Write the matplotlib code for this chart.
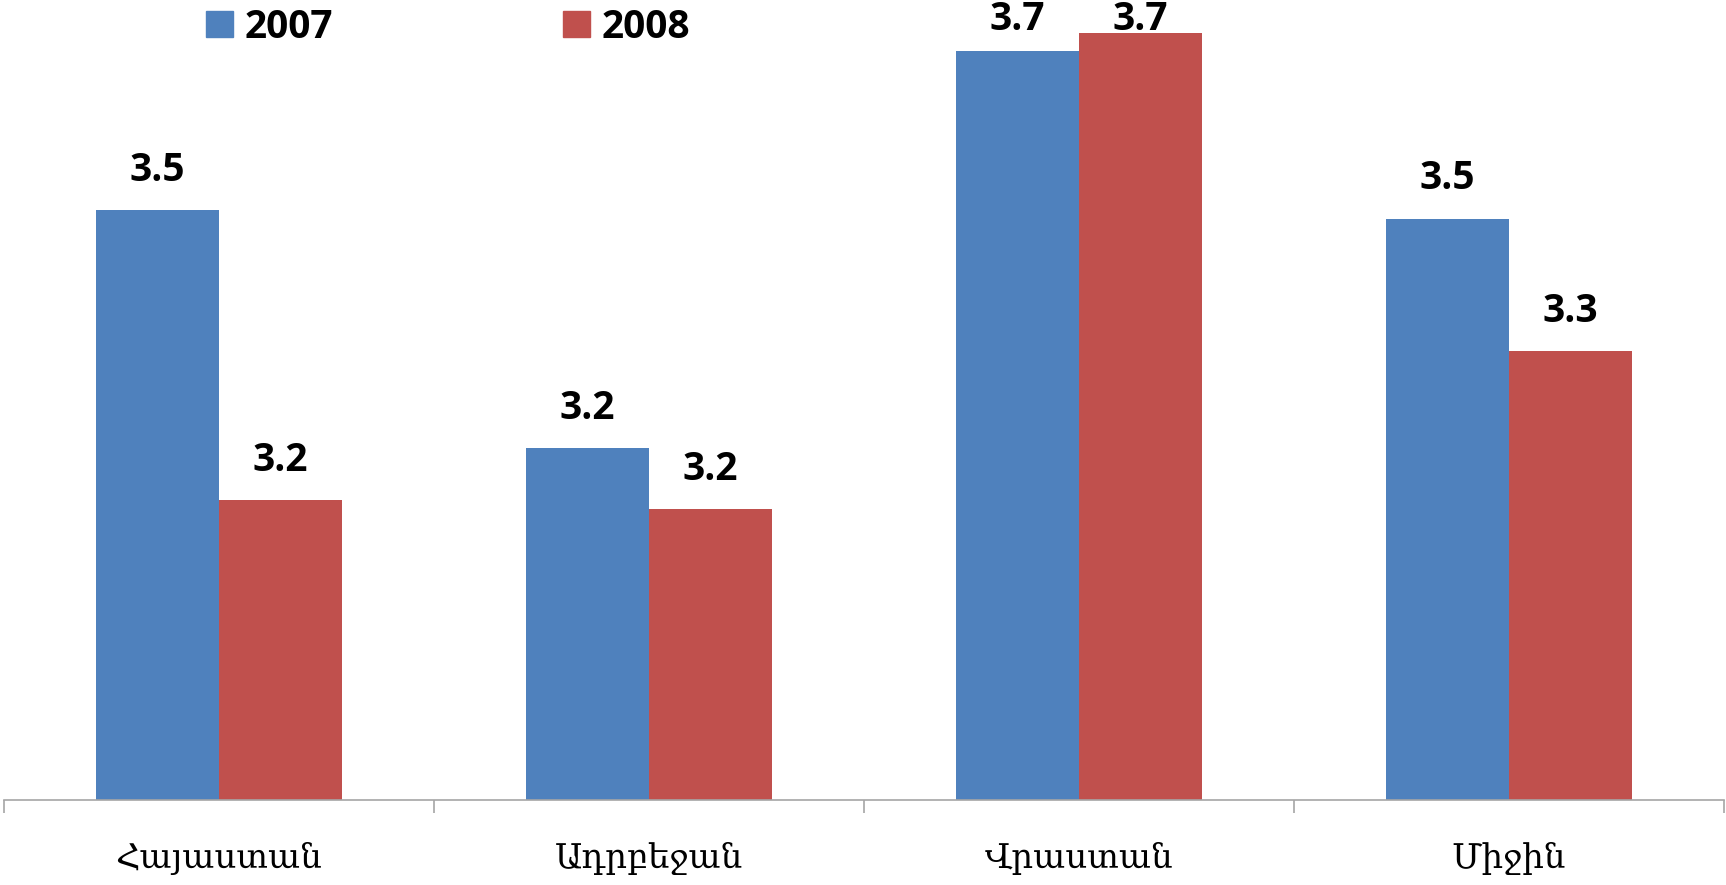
import matplotlib
matplotlib.use("Agg")
import matplotlib.pyplot as plt
from matplotlib.patches import Rectangle
import numpy as np

categories = ["Հայաստան", "Ադրբեջան", "Վրաստան", "Միջին"]
series_names = ["2007", "2008"]
values_2007 = [3.50, 3.23, 3.68, 3.49]
values_2008 = [3.17, 3.16, 3.70, 3.34]
colors = ["#4F81BD", "#C0504D"]

W, H = 1726, 885
fig = plt.figure(figsize=(W / 100, H / 100), dpi=100)
ax = fig.add_axes([4 / W, (H - 800) / H, 1720 / W, 800 / H])

ymin, ymax = 2.83, 3.738
ax.set_ylim(ymin, ymax)
ax.set_xlim(-0.5, len(categories) - 0.5)

label_gap = 0.033
label_cap = 3.704

x = np.arange(len(categories))
bw = 1 / 3.5
for j, (vals, col) in enumerate(zip([values_2007, values_2008], colors)):
    xs = x + (j - 0.5) * bw
    ax.bar(xs, np.array(vals) - ymin, bottom=ymin, width=bw, color=col,
           align="center", linewidth=0)
    for xi, v in zip(xs, vals):
        ly = min(v + label_gap, label_cap)
        ax.text(xi, ly, f"{v:.1f}", ha="center", va="baseline",
                fontsize=28, fontweight="bold", family="Open Sans",
                clip_on=False)

for s in ["top", "right", "left"]:
    ax.spines[s].set_visible(False)
ax.spines["bottom"].set_color("#A6A6A6")
ax.spines["bottom"].set_linewidth(1.2)
ax.set_yticks([])
ax.set_xticks(x)
ax.set_xticklabels(categories, fontsize=24.5, family="DejaVu Serif")
ax.tick_params(axis="x", which="major", length=0, pad=30)
ax.set_xticks(np.arange(-0.5, len(categories)), minor=True)
ax.tick_params(axis="x", which="minor", length=9, width=1.2, color="#A6A6A6",
               direction="out")

handles = [Rectangle((0, 0), 1, 1, color=c) for c in colors]
fig.legend(handles, series_names, loc="center left",
           bbox_to_anchor=(206 / W, 1 - 27 / H), ncol=2, frameon=False,
           prop={"family": "Open Sans", "weight": "bold", "size": 28},
           handlelength=0.69, handleheight=0.67, handletextpad=0.31,
           columnspacing=5.9, borderpad=0, borderaxespad=0)

fig.savefig("out.png", dpi=100)
